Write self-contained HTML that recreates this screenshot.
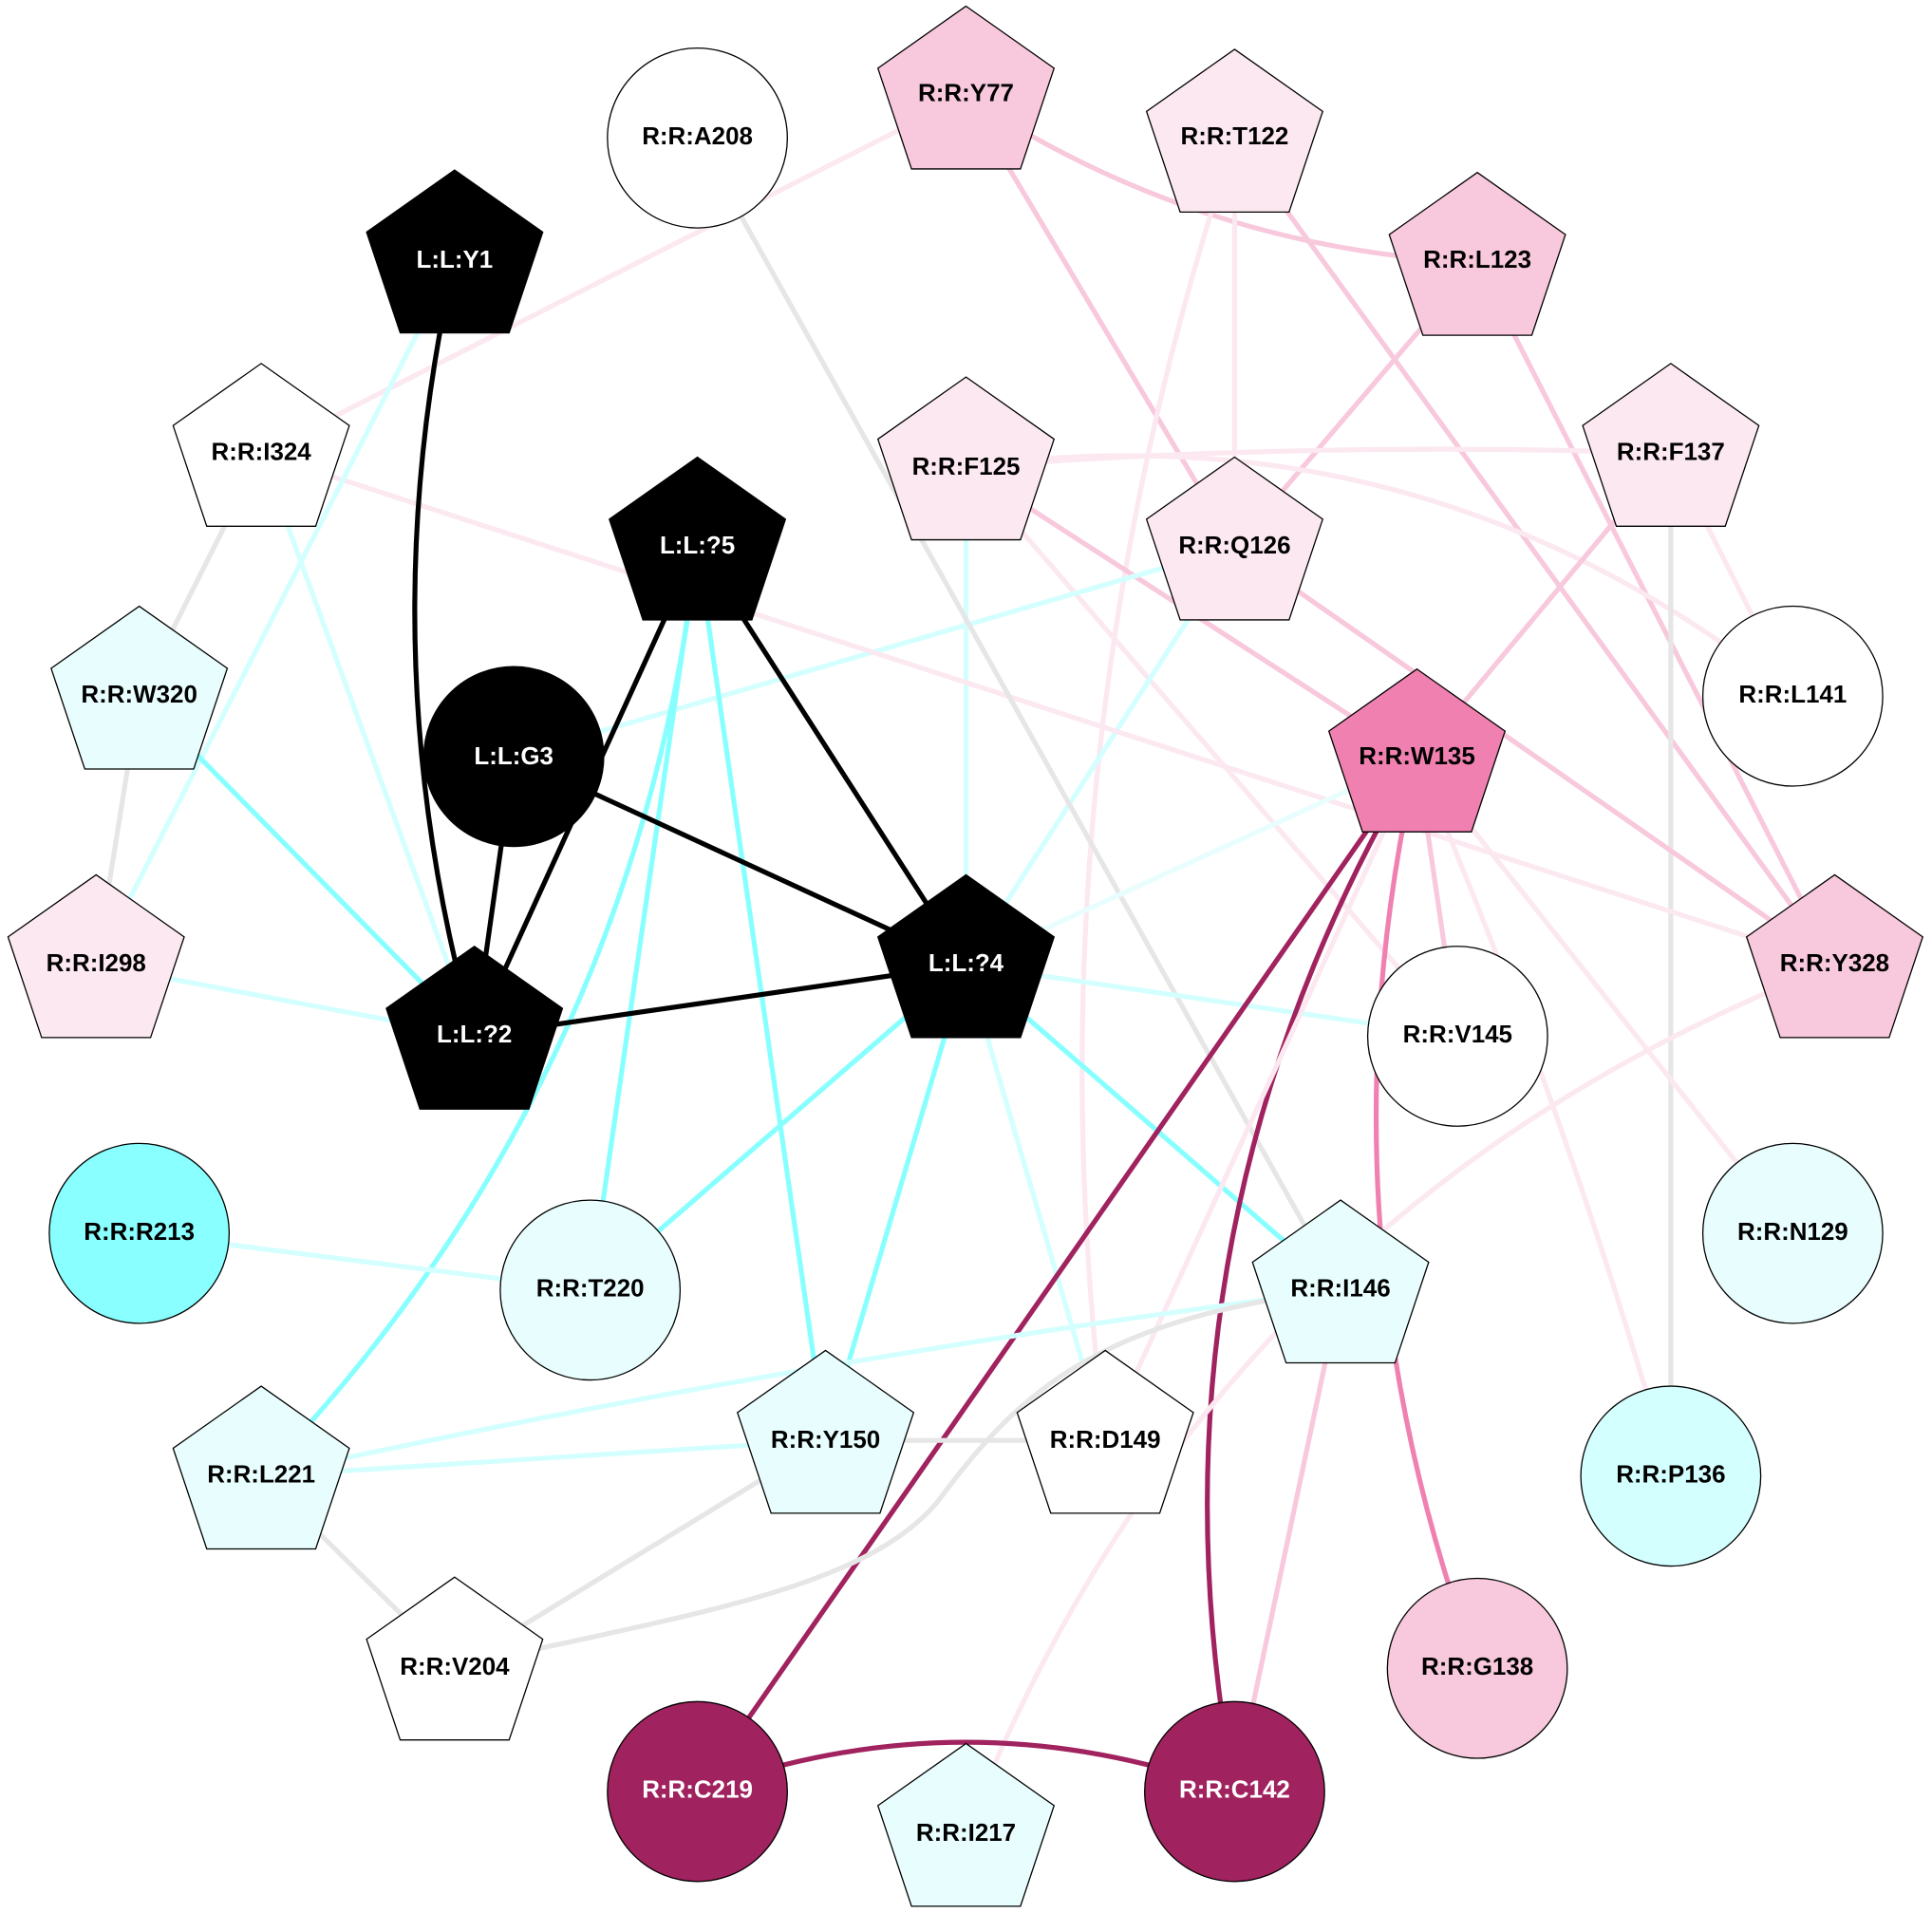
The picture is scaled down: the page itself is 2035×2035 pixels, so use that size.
<!DOCTYPE html>
<html><head><meta charset="utf-8"><style>
html,body{margin:0;padding:0;background:#fff;}
svg{display:block;}
text{font-family:"Liberation Sans",Arial,sans-serif;font-weight:bold;font-size:20px;text-anchor:middle;dominant-baseline:central;}
</style></head><body>
<svg id="s" width="2035" height="2035" viewBox="0 0 1568 1568" xmlns="http://www.w3.org/2000/svg">
<g id="edges" fill="none" stroke-width="4"></g>
<g id="nodes" stroke="#000" stroke-width="1"></g>
<g id="labels">
<text x="566" y="111">R:R:A208</text>
<text x="784" y="76">R:R:Y77</text>
<text x="1002" y="111">R:R:T122</text>
<text x="369" y="211" fill="#fff">L:L:Y1</text>
<text x="1199" y="211">R:R:L123</text>
<text x="212" y="367">R:R:I324</text>
<text x="784" y="379">R:R:F125</text>
<text x="1356" y="367">R:R:F137</text>
<text x="566" y="443" fill="#fff">L:L:?5</text>
<text x="1002" y="443">R:R:Q126</text>
<text x="113" y="564">R:R:W320</text>
<text x="1455" y="564">R:R:L141</text>
<text x="417" y="614" fill="#fff">L:L:G3</text>
<text x="1150" y="614">R:R:W135</text>
<text x="78" y="782">R:R:I298</text>
<text x="784" y="782" fill="#fff">L:L:?4</text>
<text x="1489" y="782">R:R:Y328</text>
<text x="385" y="840" fill="#fff">L:L:?2</text>
<text x="1183" y="840">R:R:V145</text>
<text x="113" y="1000">R:R:R213</text>
<text x="1455" y="1000">R:R:N129</text>
<text x="479" y="1046">R:R:T220</text>
<text x="1088" y="1046">R:R:I146</text>
<text x="670" y="1169">R:R:Y150</text>
<text x="897" y="1169">R:R:D149</text>
<text x="212" y="1197">R:R:L221</text>
<text x="1356" y="1197">R:R:P136</text>
<text x="369" y="1353">R:R:V204</text>
<text x="1199" y="1353">R:R:G138</text>
<text x="566" y="1453" fill="#fff">R:R:C219</text>
<text x="784" y="1488">R:R:I217</text>
<text x="1002" y="1453" fill="#fff">R:R:C142</text>
</g>
</svg>
<script>
var N={
A208:['c',566,112,'#fff'],Y77:['p',784,78,'#f8c8dc'],T122:['p',1002,113,'#fce8f0'],
Y1:['p',369,211,'#000'],L123:['p',1199,213,'#f8c8dc'],I324:['p',212,368,'#fff'],
F125:['p',784,379,'#fce8f0'],F137:['p',1356,368,'#fce8f0'],P5:['p',566,444,'#000'],
Q126:['p',1002,444,'#fce8f0'],W320:['p',113,565,'#e8fefe'],L141:['c',1455,565,'#fff'],
G3:['c',417,614,'#000'],W135:['p',1150,616,'#f080b0'],I298:['p',78,783,'#fce8f0'],
P4:['p',784,783,'#000'],Y328:['p',1489,783,'#f8c8dc'],P2:['p',385,841,'#000'],
V145:['c',1183,841,'#fff'],R213:['c',113,1001,'#8affff'],N129:['c',1455,1001,'#e8fefe'],
T220:['c',479,1047,'#e8fefe'],I146:['p',1088,1047,'#e8fefe'],Y150:['p',670,1169,'#e8fefe'],
D149:['p',897,1169,'#fff'],L221:['p',212,1198,'#e8fefe'],P136:['c',1356,1198,'#d4ffff'],
V204:['p',369,1353,'#fff'],G138:['c',1199,1354,'#f8c8dc'],C219:['c',566,1454,'#a0225e'],
I217:['p',784,1488,'#e8fefe'],C142:['c',1002,1454,'#a0225e']};
var K='#000',C='#88ffff',LC='#d4ffff',VC='#e8fefe',P='#f8c8dc',LP='#fce8f0',G='#e6e6e6',D='#a0225e',M='#f080b0';
var E=[
['Y77','I324',LP],['Y77','L123',P,30],['Y77','Q126',P],['T122','Q126',LP],['T122','D149',LP,60],['T122','Y328',P],
['L123','Q126',P],['L123','Y328',P],['F125','F137',LP,-8],['F125','L141',LP,-75],['F125','W135',P],['F125','V145',LP],['F125','P4',LC],
['F137','W135',P],['F137','L141',LP],['F137','P136',G],['Q126','G3',LC],['Q126','P4',LC],['Q126','Y328',P],
['I324','W320',G],['I324','P2',LC],['I324','Y328',LP],['Y1','I298',LC],['W320','P2',C],['W320','I298',G],['I298','P2',LC],
['A208','I146',G],['P5','L221',C,-70],['P5','T220',C],['P5','Y150',C],['P4','T220',C],['P4','Y150',C],['P4','I146',C],['P4','D149',LC],['P4','V145',LC],
['W135','P4',VC],['W135','C219',D],['W135','C142',D,80],['W135','G138',M,55],['W135','V145',P],['W135','N129',LP],['W135','P136',LP,-10],['W135','D149',LP],
['Y328','I217',LP,110],['R213','T220',LC],['I146','L221',LC,10],['I146','V204',G,'M1088,1047 C880,1070 820,1140 760,1220 C700,1290 560,1310 369,1353'],['I146','C142',P],['Y150','V204',G],['L221','Y150',LC],['Y150','D149',G],['L221','V204',G],
['C219','C142',D,-40],
['Y1','P2',K,40],['G3','P2',K],['P5','P2',K],['P5','P4',K],['G3','P4',K],['P2','P4',K]];
var ns='http://www.w3.org/2000/svg',eg=document.getElementById('edges'),ng=document.getElementById('nodes');
E.forEach(function(e){var a=N[e[0]],b=N[e[1]],p=document.createElementNS(ns,'path');var d;
if(typeof e[3]=='string')d=e[3];
else if(e[3]){var mx=(a[1]+b[1])/2,my=(a[2]+b[2])/2,dx=b[1]-a[1],dy=b[2]-a[2],l=Math.hypot(dx,dy);
d='M'+a[1]+','+a[2]+' Q'+(mx-dy/l*e[3]*2)+','+(my+dx/l*e[3]*2)+' '+b[1]+','+b[2];}
else d='M'+a[1]+','+a[2]+' L'+b[1]+','+b[2];
p.setAttribute('d',d);p.setAttribute('stroke',e[2]);eg.appendChild(p);});
for(var k in N){var n=N[k],el;
if(n[0]=='c'){el=document.createElementNS(ns,'circle');el.setAttribute('cx',n[1]);el.setAttribute('cy',n[2]);el.setAttribute('r',73);}
else{el=document.createElementNS(ns,'polygon');var pts=[];for(var i=0;i<5;i++){var t=(-90+72*i)*Math.PI/180;pts.push((n[1]+Math.cos(t)*73*1.03).toFixed(1)+','+(n[2]+Math.sin(t)*73).toFixed(1));}el.setAttribute('points',pts.join(' '));}
el.setAttribute('fill',n[3]);ng.appendChild(el);}
</script>
</body></html>
